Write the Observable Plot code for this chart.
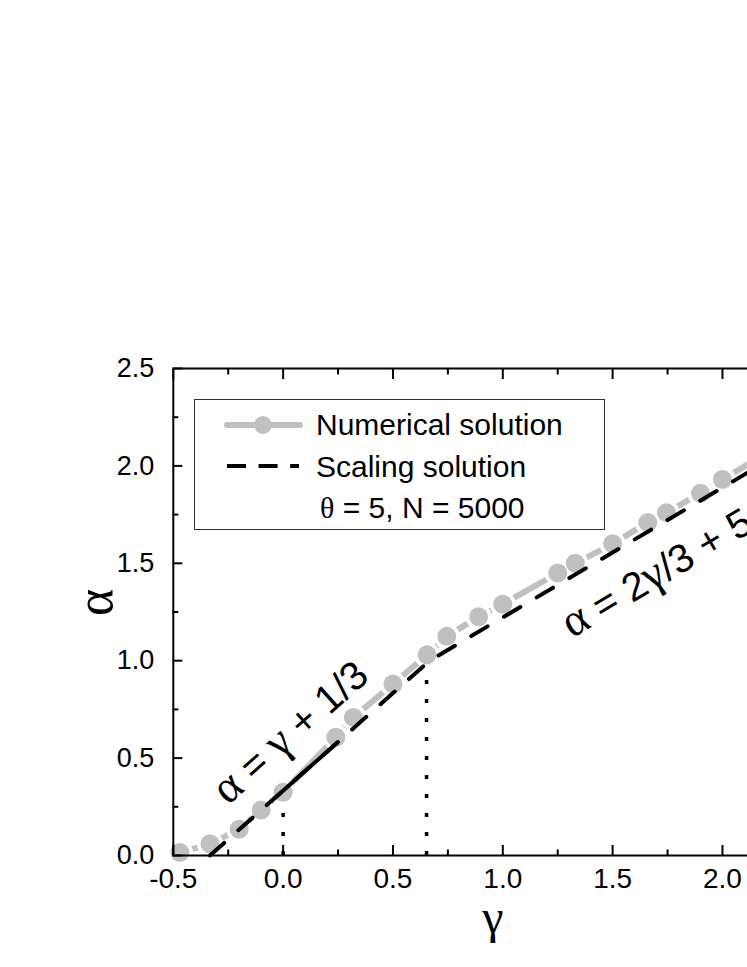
<!DOCTYPE html>
<html><head><meta charset="utf-8">
<script src="https://cdn.jsdelivr.net/npm/d3@7"></script>
<script src="https://cdn.jsdelivr.net/npm/@observablehq/plot@0.6"></script>
<style>
html,body{margin:0;padding:0;background:#fff;overflow:hidden;width:747px;height:967px;}
#wrap{position:relative;width:747px;height:967px;overflow:hidden;background:#fff;}
#chart{width:880px;height:967px;}
#chart svg{max-width:none !important;width:880px !important;height:967px !important;display:block;}
#legend{position:absolute;left:194px;top:399px;}
</style></head><body><div id="wrap"><div id="chart"></div><div id="legend"></div></div>
<script>
// ---- data ----
const seriesNames = ["Numerical solution", "Scaling solution"];
const paramLabel = "θ = 5, N = 5000";
const xLabel = "γ";
const yLabel = "α";

// numerical solution (gray circles)
const numGamma = [-0.47, -0.333, -0.2, -0.1, 0.0, 0.24, 0.32, 0.5, 0.655, 0.745, 0.89, 1.0, 1.25, 1.33, 1.5, 1.66, 1.745, 1.9, 2.0, 2.25, 2.33, 2.5];
const numAlpha = [0.015, 0.06, 0.135, 0.234, 0.325, 0.607, 0.709, 0.88, 1.03, 1.125, 1.225, 1.29, 1.45, 1.50, 1.60, 1.71, 1.76, 1.86, 1.93, 2.10, 2.15, 2.26];

// scaling solution (black dashed): alpha = gamma + 1/3, then alpha = 2gamma/3 + 5/9
const scaleGamma = [-0.3333, 0.6667, 2.5];
const scaleAlpha = [0.0, 1.0, 2.2222];
// short solid stretch of the scaling line
const solidGamma = [-0.04, 0.245];
const solidAlpha = [0.293, 0.578];

// dotted vertical markers
const markGamma = [0.0, 0.653];
const markTop = [0.33, 0.99];

// annotations
const annotText = ["α = γ + 1/3", "α = 2γ/3 + 5/9"];
const annotGamma = [-0.29, 1.285];
const annotAlpha = [0.305, 1.17];
const annotAngle = [-41.6, -30.6];

// ticks
const xMajor = [-0.5, 0.0, 0.5, 1.0, 1.5, 2.0, 2.5];
const xMinor = [-0.25, 0.25, 0.75, 1.25, 1.75, 2.25];
const yMajor = [0.0, 0.5, 1.0, 1.5, 2.0, 2.5];
const yMinor = [0.25, 0.75, 1.25, 1.75, 2.25];

// ---- tables ----
const num = numGamma.map((g, i) => ({g, a: numAlpha[i]}));
const scaling = scaleGamma.map((g, i) => ({g, a: scaleAlpha[i]}));
const solid = solidGamma.map((g, i) => ({g, a: solidAlpha[i]}));
const marks = markGamma.map((g, i) => ({g, b: 0, t: markTop[i]}));
const annots = annotText.map((t, i) => ({t, g: annotGamma[i], a: annotAlpha[i], r: annotAngle[i]}));

const GRAY = "#c0c0c0";
const SANS = "Arial, 'Liberation Sans', Helvetica, sans-serif";
const SERIF = "'Liberation Serif', 'Times New Roman', 'DejaVu Serif', serif";
const fmt = d => d.toFixed(1);
const none = () => "";

const W = 880, H = 967;
const plot = Plot.plot({
  width: W, height: H,
  marginLeft: 172.8, marginRight: W - 831.8, marginTop: 368, marginBottom: 112,
  x: {domain: [-0.5, 2.5]},
  y: {domain: [0, 2.5]},
  style: {fontFamily: SANS, fontSize: "24px", color: "black", background: "white", maxWidth: "none"},
  marks: [
    Plot.ruleX(marks, {x: "g", y1: "b", y2: "t", stroke: "black", strokeWidth: 3.5, strokeDasharray: "4,15"}),
    Plot.line(num, {x: "g", y: "a", stroke: GRAY, strokeWidth: 6}),
    Plot.dot(num, {x: "g", y: "a", r: 13, fill: "white"}),
    Plot.dot(num, {x: "g", y: "a", r: 9.5, fill: GRAY}),
    Plot.line(scaling, {x: "g", y: "a", stroke: "black", strokeWidth: 4, strokeDasharray: "19,19"}),
    Plot.line(solid, {x: "g", y: "a", stroke: "black", strokeWidth: 4}),
    ...annots.map(d => Plot.text([d], {x: "g", y: "a", text: "t", rotate: d.r, textAnchor: "start", lineAnchor: "middle", fontSize: 40, fontFamily: SANS, fill: "black", className: "annot"})),
    Plot.frame({stroke: "black", strokeWidth: 2}),
    Plot.axisX({ticks: xMajor, tickSize: -10, tickFormat: none, strokeWidth: 2, label: null}),
    Plot.axisX({ticks: xMinor, tickSize: -5.5, tickFormat: none, strokeWidth: 2, label: null}),
    Plot.axisX({anchor: "top", ticks: xMajor, tickSize: -10, tickFormat: none, strokeWidth: 2, label: null}),
    Plot.axisX({anchor: "top", ticks: xMinor, tickSize: -5.5, tickFormat: none, strokeWidth: 2, label: null}),
    Plot.axisX({ticks: xMajor, tickSize: 0, tickPadding: 13, tickFormat: fmt, fontSize: 28, label: null}),
    Plot.axisY({ticks: yMajor, tickSize: -9.5, tickFormat: none, strokeWidth: 2, label: null}),
    Plot.axisY({ticks: yMinor, tickSize: -5.5, tickFormat: none, strokeWidth: 2, label: null}),
    Plot.axisY({ticks: yMajor, tickSize: 0, tickPadding: 19, tickFormat: fmt, fontSize: 27, label: null}),
    Plot.text([xLabel], {text: d => d, frameAnchor: "bottom", dx: -10, dy: 62, lineAnchor: "middle", fontSize: 48, fontFamily: SERIF}),
    Plot.text([yLabel], {text: d => d, frameAnchor: "left", dx: -78, dy: 4, rotate: -90, lineAnchor: "middle", fontSize: 52, fontFamily: SERIF})
  ]
});
plot.style.maxWidth = "none";

// render Greek letters in a serif face inside mixed labels
function greekify(root, scale) {
  d3.select(root).selectAll("text").each(function () {
    if (this.children.length) return;
    const t = this.textContent;
    if (!/[αγθ]/.test(t) || t.length < 2) return;
    this.textContent = "";
    for (const p of t.split(/([αγθ])/)) {
      if (!p) continue;
      const ts = document.createElementNS("http://www.w3.org/2000/svg", "tspan");
      ts.textContent = p;
      if (/[αγθ]/.test(p)) {
        ts.setAttribute("font-family", SERIF);
        if (scale) ts.setAttribute("font-size", scale);
      }
      this.appendChild(ts);
    }
  });
}
greekify(plot, "1.15em");
document.getElementById("chart").appendChild(plot);

// legend (inside the frame, top-left)
const lg = d3.select("#legend").append("svg").attr("width", 411).attr("height", 131)
  .attr("font-family", SANS).attr("font-size", 30);
lg.append("rect").attr("x", 0.5).attr("y", 0.5).attr("width", 410).attr("height", 130)
  .attr("fill", "white").attr("stroke", "#333").attr("stroke-width", 1);
lg.append("line").attr("x1", 33).attr("x2", 106).attr("y1", 26).attr("y2", 26)
  .attr("stroke", GRAY).attr("stroke-width", 6).attr("stroke-linecap", "round");
lg.append("circle").attr("cx", 69).attr("cy", 26).attr("r", 9).attr("fill", GRAY);
lg.append("text").attr("x", 122).attr("y", 36).text(seriesNames[0]);
lg.append("line").attr("x1", 33).attr("x2", 105).attr("y1", 67).attr("y2", 67)
  .attr("stroke", "black").attr("stroke-width", 4).attr("stroke-dasharray", "19,12.6");
lg.append("text").attr("x", 122).attr("y", 78).text(seriesNames[1]);
lg.append("text").attr("x", 126).attr("y", 119).text(paramLabel);
greekify(lg.node(), null);
</script></body></html>
